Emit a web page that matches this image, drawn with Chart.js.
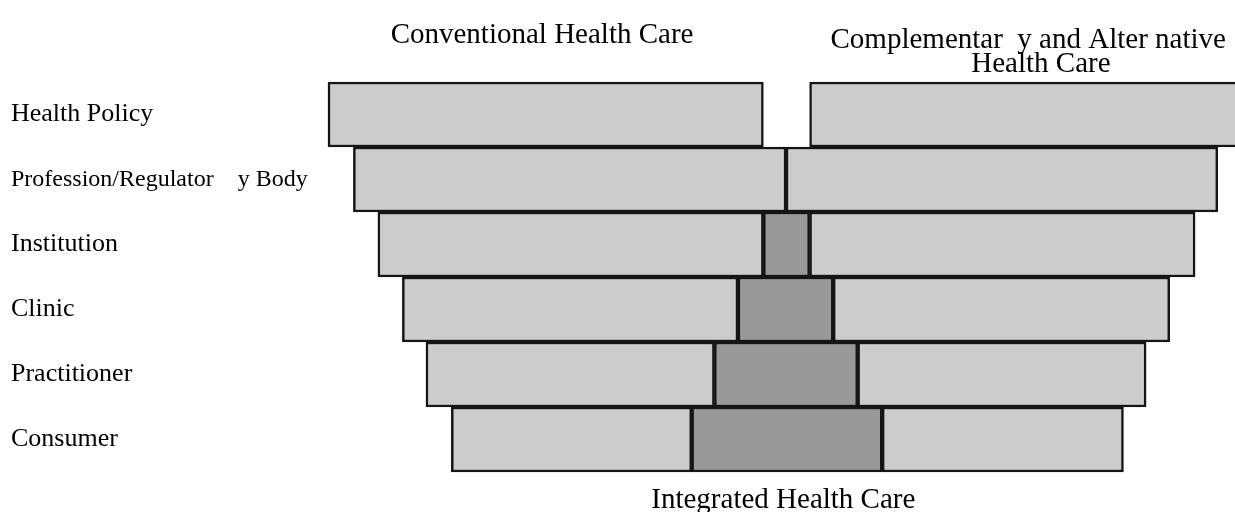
<!DOCTYPE html>
<html>
<head>
<meta charset="utf-8">
<title>Integrated Health Care</title>
<script src="https://cdn.jsdelivr.net/npm/chart.js@4.4.1/dist/chart.umd.min.js"></script>
<style>
    html, body { margin: 0; padding: 0; background: #fff; }
    #wrap { width: 1235px; height: 512px; position: relative; }
</style>
</head>
<body>
<div id="wrap"><canvas id="chart"></canvas></div>
<script>
// Levels of care (top to bottom)
const LEVELS = [
    "Health Policy",
    "Profession/Regulator    y Body",
    "Institution",
    "Clinic",
    "Practitioner",
    "Consumer"
];

// Floating bar extents on a 0–100 horizontal scale
const CONVENTIONAL = [[0, 48.0], [2.8, 50.5], [5.5, 48.0], [8.2, 45.2], [10.8, 42.6], [13.6, 40.1]];
const INTEGRATED   = [null, null, [48.0, 53.1], [45.2, 55.7], [42.6, 58.4], [40.1, 61.1]];
const CAM          = [[53.1, 101], [50.5, 98.1], [53.1, 95.6], [55.7, 92.8], [58.4, 90.2], [61.1, 87.7]];

const SERIF = "'Liberation Serif', 'Times New Roman', serif";

// ── Column headings drawn against the x scale ───────────────────
const headings = {
    id: "headings",
    afterDraw(chart) {
        const { ctx, scales: { x }, chartArea } = chart;
        ctx.save();
        ctx.fillStyle = "#000";
        ctx.font = `29px ${SERIF}`;
        ctx.textAlign = "center";
        ctx.textBaseline = "alphabetic";
        ctx.fillText("Conventional Health Care", x.getPixelForValue(23.6), chartArea.top - 39);
        ctx.fillText("Complementar  y and Alter native", x.getPixelForValue(77.2), chartArea.top - 34);
        ctx.fillText("Health Care", x.getPixelForValue(78.6), chartArea.top - 10);
        ctx.fillText("Integrated Health Care", x.getPixelForValue(50.2), chartArea.bottom + 36);
        ctx.restore();
    }
};

const barStyle = {
    borderColor: "#151515", borderWidth: 2.5, borderSkipped: false,
    barPercentage: 1.0, categoryPercentage: 1.0, grouped: false, clip: false
};

new Chart(document.getElementById("chart"), {
    type: "bar",
    data: {
        labels: LEVELS,
        datasets: [
            { label: "Conventional", data: CONVENTIONAL, backgroundColor: "#cccccc", ...barStyle },
            { label: "Integrated",   data: INTEGRATED,   backgroundColor: "#999999", ...barStyle },
            { label: "CAM",          data: CAM,          backgroundColor: "#cccccc", ...barStyle }
        ]
    },
    options: {
        indexAxis: "y",
        responsive: true, maintainAspectRatio: false,
        animation: false,
        layout: { padding: { left: 11, right: 0, top: 82, bottom: 40 } },
        plugins: {
            legend: { display: false },
            tooltip: { enabled: false }
        },
        scales: {
            x: { display: false, min: 0, max: 100 },
            y: {
                grid: { display: false },
                border: { display: false },
                afterFit: s => { s.width = 317; },
                ticks: {
                    color: "#000", crossAlign: "far", padding: 0,
                    // the long label is set a little narrower, as in the source
                    font: c => ({ family: SERIF, size: c.index === 1 ? 24 : 26 })
                }
            }
        }
    },
    plugins: [headings]
});
</script>
</body>
</html>
